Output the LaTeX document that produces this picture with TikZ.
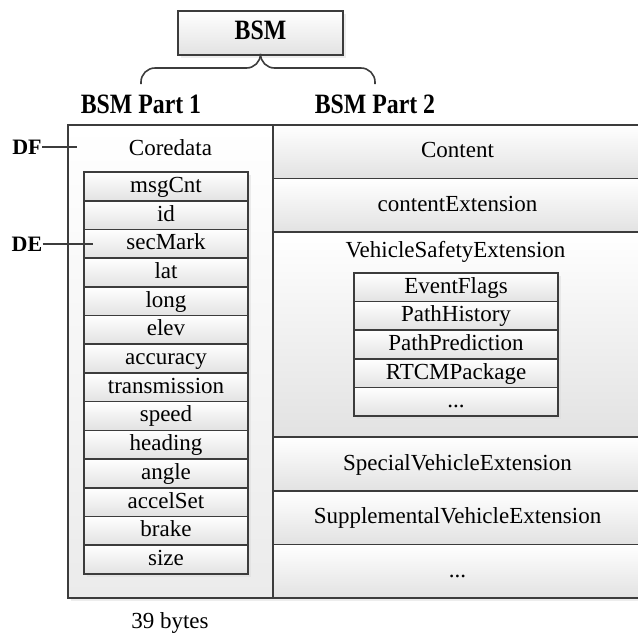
\documentclass[tikz,border=0pt]{standalone}
\usepackage{fontspec}
\setmainfont{Liberation Serif}
\newfontfamily\headfont[FakeStretch=0.85]{Liberation Serif}
\usepackage{tikz}
\usetikzlibrary{positioning,shadows}
\definecolor{Edge}{HTML}{3C3C3C}
\definecolor{Shade}{HTML}{E2E2E2}
\definecolor{Pale}{HTML}{EBEBEB}
\tikzset{
  every node/.append style={text=black},
  body/.style={draw=Edge, line width=0.8pt, outer sep=0pt, inner sep=1pt,
               top color=white, bottom color=Shade,
               drop shadow={shadow xshift=1.5pt, shadow yshift=-1.5pt, fill=black!14},
               font=\fontsize{11.5}{13}\selectfont, text height=0.75em, text depth=0.15em},
  frame/.style={body, top color=white, bottom color=Pale},
  cell/.style={body, minimum width=82pt, minimum height=14.35pt},
  subcell/.style={body, minimum width=102pt, minimum height=14.3pt},
  row/.style={body, minimum width=184.5pt, minimum height=26.8pt},
  topbox/.style={body, minimum width=82.5pt, minimum height=22pt,
                 font=\headfont\bfseries\fontsize{14}{16}\selectfont},
  head/.style={inner sep=0pt, font=\headfont\bfseries\fontsize{14}{16}\selectfont},
  lbl/.style={inner sep=1pt, font=\fontsize{11.5}{13}\selectfont},
  tag/.style={inner sep=0pt, font=\bfseries\fontsize{11}{13}\selectfont},
  brace/.style={draw=Edge, line width=0.8pt, rounded corners=7pt},
  lead/.style={draw=Edge, line width=0.8pt},
}
\begin{document}
\begin{tikzpicture}[x=0.5pt, y=-0.5pt, node distance=0pt]
  \useasboundingbox (0,0) rectangle (638,633);
  % message and its two parts
  \node[topbox] (bsm) at (260.5,33) {BSM};
  \node[head] (p1) at (141,104) {BSM Part 1};
  \node[head] (p2) at (375,104) {BSM Part 2};
  \draw[brace] ([yshift=5pt]p1.north) |- ([yshift=-6.5pt]bsm.south) -- (bsm.south);
  \draw[brace] ([yshift=5pt]p2.north) |- ([yshift=-6.5pt]bsm.south) -- (bsm.south);
  % part 1: core data
  \node[frame, minimum width=102.5pt, minimum height=236.5pt] (core) at (170.5,361.5) {};
  \node[lbl] (coretitle) at (170.5,148) {Coredata};
  \node[cell, anchor=north] (msgcnt) at (166,172) {msgCnt};
  \node[cell, below=of msgcnt] (id) {id};
  \node[cell, below=of id] (secmark) {secMark};
  \node[cell, below=of secmark] (lat) {lat};
  \node[cell, below=of lat] (long) {long};
  \node[cell, below=of long] (elev) {elev};
  \node[cell, below=of elev] (accuracy) {accuracy};
  \node[cell, below=of accuracy] (transmission) {transmission};
  \node[cell, below=of transmission] (speed) {speed};
  \node[cell, below=of speed] (heading) {heading};
  \node[cell, below=of heading] (angle) {angle};
  \node[cell, below=of angle] (accelset) {accelSet};
  \node[cell, below=of accelset] (brake) {brake};
  \node[cell, below=of brake] (size) {size};
  \node[lbl] (bytes) at (170,623) {39 bytes};
  % DF / DE markers
  \node[tag] (df) at (27,147) {DF};
  \node[tag] (de) at (27,244) {DE};
  \coordinate (dfend) at (77,147);
  \coordinate (deend) at (93,244);
  \draw[lead] (df) -- (dfend);
  \draw[lead] (de) -- (deend);
  % part 2: optional content
  \node[row, anchor=north west] (content) at (273,125) {Content};
  \node[row, below=of content] (contentext) {contentExtension};
  \node[row, below=of contentext, minimum height=102.5pt] (vse) {};
  \node[lbl] (vsetitle) at (455.5,252) {VehicleSafetyExtension};
  \node[subcell, anchor=north] (eventflags) at (456,273) {EventFlags};
  \node[subcell, below=of eventflags] (pathhistory) {PathHistory};
  \node[subcell, below=of pathhistory] (pathprediction) {PathPrediction};
  \node[subcell, below=of pathprediction] (rtcm) {RTCMPackage};
  \node[subcell, below=of rtcm] (vsemore) {...};
  \node[row, below=of vse] (special) {SpecialVehicleExtension};
  \node[row, below=of special] (supplemental) {SupplementalVehicleExtension};
  \node[row, below=of supplemental] (more) {...};
\end{tikzpicture}
\end{document}
